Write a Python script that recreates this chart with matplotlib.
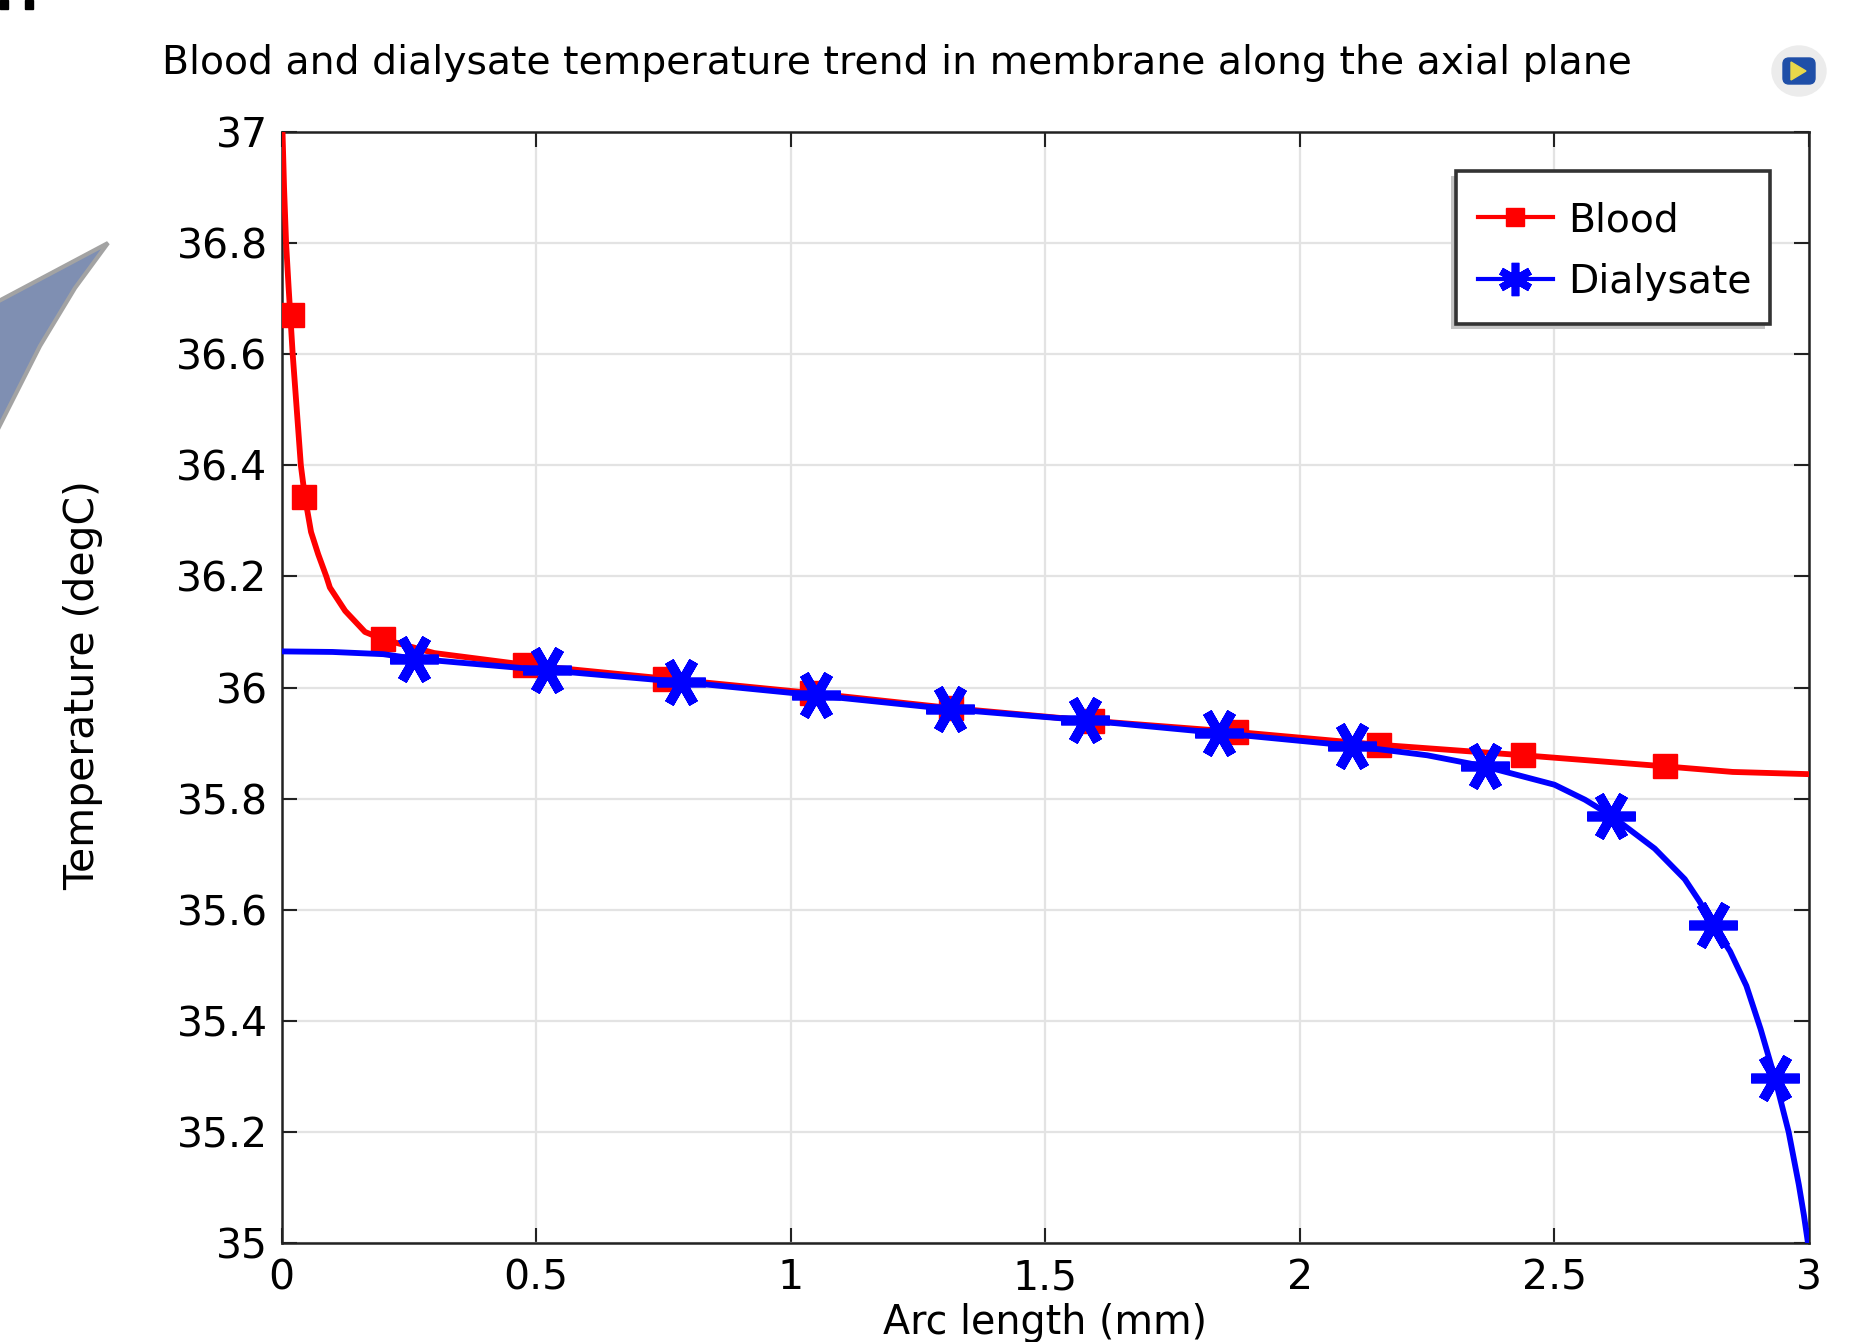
import matplotlib
matplotlib.use("Agg")
import matplotlib.pyplot as plt
from matplotlib.lines import Line2D
from matplotlib.patches import Polygon, Rectangle, FancyBboxPatch, Ellipse

# curve
blood_x = [0.002, 0.005, 0.009, 0.014, 0.022, 0.030, 0.038, 0.046, 0.058, 0.072, 0.088, 0.095, 0.125, 0.164, 0.199,
           0.30, 0.478, 0.754, 1.042, 1.315, 1.592, 1.875, 2.155, 2.439, 2.718, 2.85, 3.0]
blood_y = [37.0, 36.9, 36.8, 36.72, 36.6, 36.5, 36.4, 36.343, 36.28, 36.24, 36.2, 36.18, 36.138, 36.10, 36.087,
           36.062, 36.041, 36.016, 35.99, 35.963, 35.94, 35.92, 35.897, 35.878, 35.858, 35.848, 35.844]
dial_x = [0.0, 0.1, 0.2, 0.26, 0.522, 0.784, 1.049, 1.313, 1.578, 1.842, 2.102, 2.25, 2.363, 2.5, 2.56, 2.612, 2.697,
          2.756, 2.785, 2.812, 2.845, 2.877, 2.905, 2.933, 2.96, 2.98, 2.99, 2.998]
dial_y = [36.065, 36.064, 36.06, 36.052, 36.031, 36.01, 35.986, 35.961, 35.941, 35.918, 35.895, 35.878, 35.858, 35.825,
          35.798, 35.769, 35.71, 35.655, 35.615, 35.572, 35.525, 35.463, 35.385, 35.297, 35.2, 35.105, 35.05, 35.0]

# marker positions
blood_mark_x = [0.021, 0.0445, 0.199, 0.478, 0.754, 1.042, 1.315, 1.592, 1.875, 2.155, 2.439, 2.718]
blood_mark_y = [36.67, 36.343, 36.087, 36.041, 36.016, 35.99, 35.963, 35.94, 35.92, 35.897, 35.878, 35.858]
dial_mark_x = [0.26, 0.522, 0.784, 1.049, 1.313, 1.578, 1.842, 2.102, 2.363, 2.612, 2.812, 2.933]
dial_mark_y = [36.052, 36.031, 36.01, 35.986, 35.961, 35.941, 35.918, 35.895, 35.858, 35.769, 35.572, 35.297]

x_ticks = [0, 0.5, 1, 1.5, 2, 2.5, 3]
x_labels = ["0", "0.5", "1", "1.5", "2", "2.5", "3"]
y_ticks = [35, 35.2, 35.4, 35.6, 35.8, 36, 36.2, 36.4, 36.6, 36.8, 37]
y_labels = ["35", "35.2", "35.4", "35.6", "35.8", "36", "36.2", "36.4", "36.6", "36.8", "37"]

W, H = 1851, 1342
plt.rcParams['font.family'] = 'DejaVu Sans'
fig = plt.figure(figsize=(W / 100, H / 100), dpi=100)

# page decoration in pixel coordinates
deco = fig.add_axes([0, 0, 1, 1], zorder=0)
deco.set_xlim(0, W)
deco.set_ylim(H, 0)
deco.axis("off")
deco.add_patch(Polygon([(-5, 303), (108, 243), (75, 288), (40, 346), (-5, 435)], closed=True,
                       facecolor="#7f8fb2", edgecolor="#a3a3a3", lw=3))
deco.add_patch(Rectangle((0, 0), 8, 9, color="black"))
deco.add_patch(Rectangle((25, 0), 8, 9, color="black"))
deco.add_patch(Ellipse((1799, 71), 54, 50, color="#ececec"))
deco.add_patch(FancyBboxPatch((1785, 60), 28, 22, boxstyle="round,pad=2,rounding_size=6", color="#1f4fa8"))
deco.add_patch(Polygon([(1791, 62), (1791, 80), (1806, 71)], closed=True, color="#e8d84a"))

ax = fig.add_axes([281.5 / W, 1 - 1243 / H, (1809 - 281.5) / W, (1243 - 132) / H], zorder=1)

ax.plot(blood_x, blood_y, color="#ff0000", lw=4.2, zorder=3)
ax.plot(blood_mark_x, blood_mark_y, ls="none", marker="s", ms=17, color="#ff0000", zorder=3)
ax.plot(dial_x, dial_y, color="#0000ff", lw=4.2, zorder=4)
ax.plot(dial_mark_x, dial_mark_y, ls="none", marker=(6, 2, 90), ms=35, mew=7, color="#0000ff", zorder=4)

ax.set_xlim(0, 3)
ax.set_ylim(35, 37)
ax.set_xticks(x_ticks)
ax.set_xticklabels(x_labels)
ax.set_yticks(y_ticks)
ax.set_yticklabels(y_labels)
ax.tick_params(direction="in", length=11, width=1.5, top=True, right=True, labelsize=29.5, color="#222222")
ax.tick_params(axis="x", pad=11)
ax.tick_params(axis="y", pad=10)
ax.grid(True, color="#e3e3e3", lw=1.6)
ax.set_axisbelow(True)
for s in ax.spines.values():
    s.set_linewidth(1.8)
    s.set_color("#222222")

ax.set_xlabel("Arc length (mm)", fontsize=28.5, labelpad=3.5)
fig.text(83 / W, 1 - 685 / H, "Temperature (degC)", fontsize=29.4, rotation=90, ha="center", va="center")
fig.text(161.5 / W, 1 - 63 / H, "Blood and dialysate temperature trend in membrane along the axial plane",
         fontsize=28.4, ha="left", va="center")

# legend box and its shadow are drawn by hand, the entries by legend()
ax.add_patch(Rectangle((1451, 176), 314, 153, transform=deco.transData, facecolor="#c4c4c4", edgecolor="none", zorder=5))
ax.add_patch(Rectangle((1456, 171), 314, 153, transform=deco.transData, facecolor="white", edgecolor="#333333",
                       lw=2.6, zorder=5))
handles = [Line2D([], [], color="#ff0000", lw=3, marker="s", ms=13),
           Line2D([], [], color="#0000ff", lw=3, marker=(6, 2, 0), ms=24, mew=5.5)]
leg = ax.legend(handles, ["Blood", "Dialysate"], loc="upper left",
                bbox_to_anchor=((1478 - 281.5) / (1809 - 281.5), 1 - (201 - 132) / (1243 - 132)),
                borderaxespad=0, borderpad=0, fontsize=28.3, frameon=False,
                handlelength=1.9, handletextpad=0.4, labelspacing=0.6)
leg.set_zorder(6)

fig.savefig("out.png", dpi=100, facecolor="white")
